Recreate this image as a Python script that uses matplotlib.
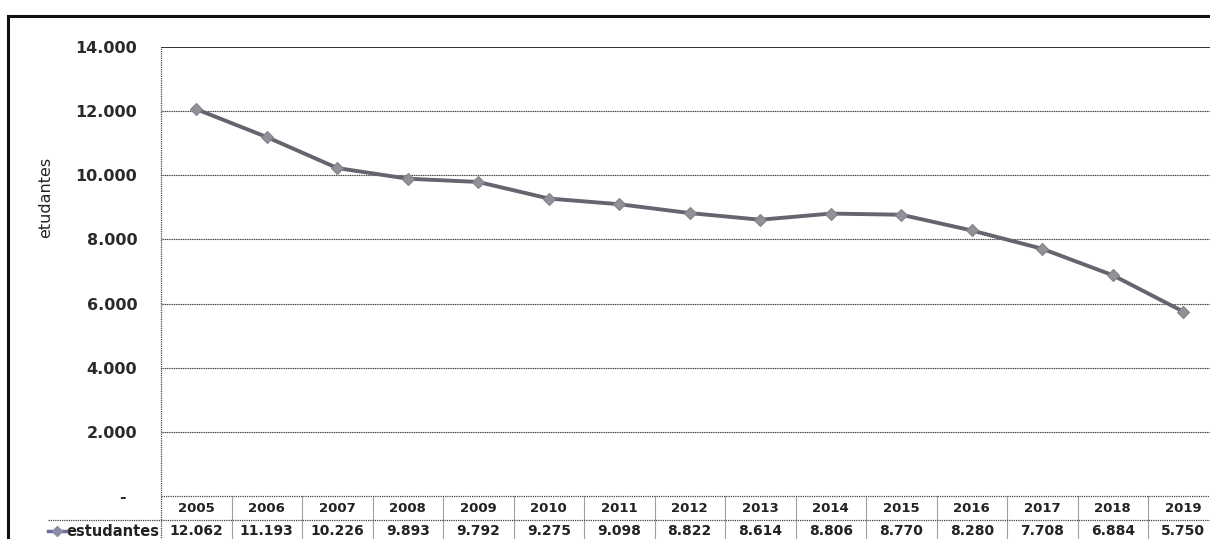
import matplotlib
matplotlib.use("Agg")
import matplotlib.pyplot as plt
from matplotlib.patches import Rectangle
from matplotlib.lines import Line2D

years = ["2005", "2006", "2007", "2008", "2009", "2010", "2011", "2012",
         "2013", "2014", "2015", "2016", "2017", "2018", "2019"]
estudantes = [12062, 11193, 10226, 9893, 9792, 9275, 9098, 8822,
              8614, 8806, 8770, 8280, 7708, 6884, 5750]
series_name = "estudantes"
y_label = "etudantes"
y_ticks = [0, 2000, 4000, 6000, 8000, 10000, 12000, 14000]

W, H = 1210, 539
fig = plt.figure(figsize=(W / 100, H / 100), dpi=100)
fig.patch.set_facecolor("white")

def fx(px):
    return px / W

def fy(py):
    return 1 - py / H

# axes: left 161px, top 47px, bottom 496px, column width 70.5px
left, top, bottom = 161, 47, 496
colw = 70.5
n = len(years)
ax = fig.add_axes([fx(left), fy(bottom), fx(colw * n), (bottom - top) / H])
ax.set_xlim(-0.5, n - 0.5)
ax.set_ylim(0, 14000)

def fmt(v):
    if v == 0:
        return "-"
    return f"{v:,}".replace(",", ".")

ax.set_yticks(y_ticks)
ax.set_yticklabels([fmt(v) + ("  " if v == 0 else "") for v in y_ticks])
ax.tick_params(axis="y", length=0, pad=17, labelsize=11.5, colors="#2a2a2a")
for lab in ax.get_yticklabels():
    lab.set_fontweight("bold")
ax.set_xticks([])

for v in y_ticks[1:-1]:
    ax.axhline(v, color="#3a3a3a", lw=0.8, ls=(0, (1, 0.6)), zorder=1)
ax.axhline(14000, color="#222222", lw=1.3, zorder=1)

for s in ["right", "bottom", "top", "left"]:
    ax.spines[s].set_visible(False)

tr = ax.get_xaxis_transform()
ax_h = bottom - top

def ay(py):
    return (bottom - py) / ax_h

row1_top, row1_bot, row2_bot = 496, 520, 542
dot = (0, (1, 0.8))

ax.plot([-0.5, -0.5], [ay(row2_bot), 1], transform=tr,
        color="#444444", lw=0.9, ls=dot, clip_on=False)

xs = list(range(n))
ax.plot(xs, estudantes, color="#67636f", lw=2.8, zorder=3,
        marker="D", markersize=6, markerfacecolor="#929098",
        markeredgecolor="#84828a", markeredgewidth=0.8)

# y label
fig.text(fx(46), fy(197), y_label, rotation=90, ha="center", va="center",
         fontsize=11.5, color="#222222")

# data table
ax.plot([-0.5, n - 0.5], [ay(row1_top)] * 2, transform=tr, clip_on=False,
        color="#444444", lw=0.9, ls=dot)
x_leg = (48 - left) / colw - 0.5
ax.plot([x_leg, n - 0.5], [ay(row1_bot)] * 2, transform=tr, clip_on=False,
        color="#444444", lw=0.9, ls=dot)
for i in range(1, n + 1):
    ax.plot([i - 0.5, i - 0.5], [ay(row1_top), ay(row2_bot)], transform=tr,
            clip_on=False, color="#555555", lw=0.8, ls=dot)

yr_y = ay(509)
val_y = ay(531)
for i, (yr, v) in enumerate(zip(years, estudantes)):
    ax.text(i, yr_y, yr, transform=tr,
            ha="center", va="center", fontsize=9.5, fontweight="bold",
            color="#222222", clip_on=False)
    ax.text(i, val_y, fmt(v), transform=tr,
            ha="center", va="center", fontsize=10, fontweight="bold",
            color="#222222", clip_on=False)

# legend cell
ax.text(-0.5 - 2 / colw, val_y, series_name,
        transform=tr, ha="right", va="center", fontsize=10.5,
        fontweight="bold", color="#222222", clip_on=False)
fig.add_artist(Line2D([fx(48), fx(66)], [fy(531)] * 2, color="#6a6f9a",
                      lw=2.5))
fig.add_artist(Line2D([fx(57)], [fy(531)], marker="D", markersize=5,
                      color="#8c8ca8", lw=0))

# outer frame
fig.add_artist(Rectangle((fx(8), fy(560)), fx(1230), fy(16) - fy(560),
                         fill=False, edgecolor="#111111", lw=2.2,
                         transform=fig.transFigure))

fig.savefig("out.png", dpi=100, facecolor="white")
